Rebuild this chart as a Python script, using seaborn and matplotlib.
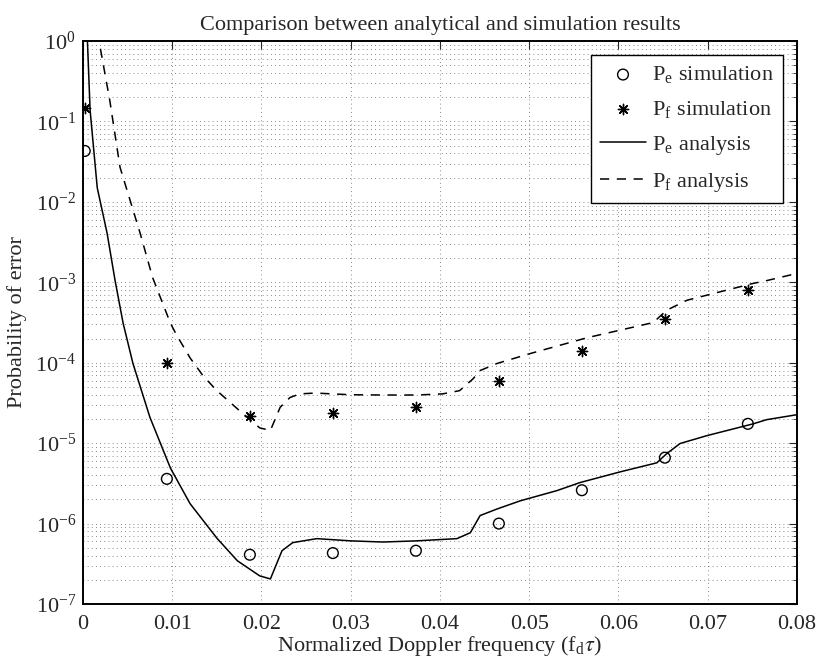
import numpy as np
import pandas as pd
import seaborn as sns
import matplotlib
matplotlib.use("Agg")
from matplotlib import pyplot as plt
from matplotlib.ticker import LogLocator, MultipleLocator, NullFormatter, FuncFormatter

# simulation points
sim_x = [0.0002, 0.0094, 0.0187, 0.0280, 0.0373, 0.0466, 0.0559, 0.0652, 0.0745]
pe_sim = [4.3e-2, 3.6e-6, 4.1e-7, 4.3e-7, 4.6e-7, 1.0e-6, 2.6e-6, 6.6e-6, 1.74e-5]
pf_sim = [1.46e-1, 1.0e-4, 2.2e-5, 2.4e-5, 2.8e-5, 5.9e-5, 1.38e-4, 3.46e-4, 8.1e-4]

# analysis curves
pe_x = [0.0002, 0.0005, 0.0008, 0.0016, 0.0027, 0.0036, 0.0045, 0.0056, 0.0075,
        0.0098, 0.0120, 0.0150, 0.0173, 0.0198, 0.0210, 0.0223, 0.0235, 0.0262,
        0.0300, 0.0336, 0.0374, 0.0419, 0.0434, 0.0445, 0.0464, 0.0490, 0.0531,
        0.0557, 0.0602, 0.0643, 0.0654, 0.0669, 0.0699, 0.0751, 0.0766, 0.0800]
pe_ana = [5.0, 1.0, 0.138, 0.015, 4.1e-3, 1.05e-3, 3.1e-4, 9.8e-5, 2.1e-5,
          4.9e-6, 1.77e-6, 6.6e-7, 3.45e-7, 2.24e-7, 2.05e-7, 4.6e-7, 5.8e-7, 6.5e-7,
          6.1e-7, 5.9e-7, 6.1e-7, 6.5e-7, 7.7e-7, 1.26e-6, 1.52e-6, 1.92e-6, 2.57e-6,
          3.24e-6, 4.4e-6, 5.7e-6, 7.4e-6, 9.9e-6, 1.24e-5, 1.74e-5, 1.96e-5, 2.26e-5]

pf_x = [0.0008, 0.0018, 0.0030, 0.00415, 0.0064, 0.0078, 0.0098, 0.0105, 0.0120,
        0.01345, 0.0150, 0.0176, 0.0198, 0.0210, 0.0221, 0.0232, 0.0243, 0.0260,
        0.0300, 0.0336, 0.0374, 0.0403, 0.0422, 0.0437, 0.0445, 0.0464, 0.0501,
        0.0565, 0.0639, 0.0654, 0.0677, 0.0751, 0.0766, 0.0800]
pf_ana = [5.0, 1.0, 0.184, 0.027, 4.1e-3, 1.15e-3, 3.1e-4, 2.2e-4, 1.15e-4,
          6.9e-5, 4.5e-5, 2.5e-5, 1.55e-5, 1.44e-5, 2.8e-5, 3.7e-5, 4.1e-5, 4.2e-5,
          4.0e-5, 3.97e-5, 3.97e-5, 4.1e-5, 4.5e-5, 6.3e-5, 8.0e-5, 9.8e-5, 1.3e-4,
          2.05e-4, 3.16e-4, 4.5e-4, 6.0e-4, 9.7e-4, 1.05e-3, 1.29e-3]

# decade ticks on the y axis
y_exps = [-7, -6, -5, -4, -3, -2, -1, 0]

sns.set_style("white")
plt.rcParams['font.family'] = ['Liberation Serif', 'DejaVu Serif']
plt.rcParams['mathtext.fontset'] = 'stix'
plt.rcParams['font.size'] = 16

fig = plt.figure(figsize=(8.19, 6.61), dpi=100)
ax = fig.add_axes([0.1013, 0.0862, 0.8718, 0.8517])

sns.scatterplot(x=sim_x, y=pe_sim, ax=ax, marker='o', s=60, facecolor='none',
                edgecolor='k', linewidth=1.0, label=r'P$_\mathregular{e}$ simulation', zorder=3)
sns.scatterplot(x=sim_x, y=pf_sim, ax=ax, marker=(8, 2, 0), s=55, color='k',
                edgecolor='k', linewidth=1.0, label=r'P$_\mathregular{f}$ simulation', zorder=3)
sns.lineplot(x=pe_x, y=pe_ana, ax=ax, color='k', lw=1.1, estimator=None,
             label=r'P$_\mathregular{e}$ analysis')
sns.lineplot(x=pf_x, y=pf_ana, ax=ax, color='k', lw=1.1, linestyle=(0, (6, 5)), estimator=None,
             label=r'P$_\mathregular{f}$ analysis')

ax.set_yscale('log')
ax.set_xlim(0, 0.08)
ax.set_ylim(1e-7, 1e0)
ax.xaxis.set_major_locator(MultipleLocator(0.01))
ax.xaxis.set_major_formatter(FuncFormatter(lambda v, p: '0' if abs(v) < 1e-9 else f'{v:.2f}'))
ax.set_yticks([10.0 ** e for e in y_exps])
ax.set_yticklabels([r'$\mathregular{10^{%d}}$' % e for e in y_exps])
ax.yaxis.set_minor_locator(LogLocator(base=10, subs=np.arange(2, 10), numticks=20))
ax.yaxis.set_minor_formatter(NullFormatter())
ax.set_ylim(1e-7, 1e0)

ax.grid(True, which='major', axis='both', linestyle=(0, (1, 4)), color='0.4', lw=0.6)
ax.grid(True, which='minor', axis='y', linestyle=(0, (1, 4)), color='0.4', lw=0.6)
ax.tick_params(which='both', direction='in', top=True, right=True, labelsize=16)
ax.tick_params(axis='x', pad=8)
ax.tick_params(axis='y', pad=5)
ax.tick_params(which='major', length=6, width=0.8)
ax.tick_params(which='minor', length=3, width=0.6)
for s in ax.spines.values():
    s.set_linewidth(1.4)
    s.set_color('k')

ax.set_title('Comparison between analytical and simulation results', fontsize=16, pad=8)
ax.set_xlabel(r'Normalized Doppler frequency (f$_\mathregular{d}$$\tau$)', fontsize=16, labelpad=0)
ax.set_ylabel('Probability of error', fontsize=16, labelpad=6)

leg = ax.legend(loc='upper right', fontsize=16, frameon=True, fancybox=False, framealpha=1,
                edgecolor='k', handlelength=2.1, handletextpad=0.25, labelspacing=0.62,
                borderaxespad=0.65, borderpad=0.4)
leg.get_frame().set_linewidth(1.0)

fig.savefig('out.png', dpi=100)
